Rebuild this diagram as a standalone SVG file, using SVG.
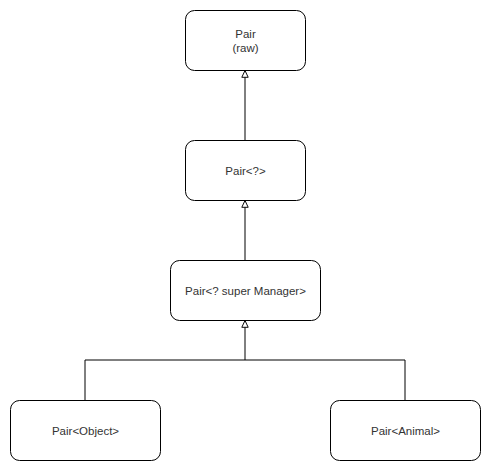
<svg xmlns="http://www.w3.org/2000/svg" width="491" height="471" viewBox="0 0 491 471">
<defs>
<style>
.box{fill:#fff;stroke:#000;stroke-width:1}
.t{font-family:"Liberation Sans",Arial,sans-serif;font-size:11.5px;fill:#333;text-anchor:middle}
.c{fill:none;stroke:#000;stroke-width:1}
</style>
<marker id="tri" viewBox="0 0 10 10" refX="9.5" refY="5" markerWidth="8" markerHeight="8" markerUnits="userSpaceOnUse" orient="auto">
<path d="M1,1 L9.5,5 L1,9 Z" fill="#fff" stroke="#000" stroke-width="1.2"/>
</marker>
</defs>
<rect width="491" height="471" fill="#fff"/>
<g id="connectors">
<path class="c" d="M245,140 L245,70.5" marker-end="url(#tri)"/>
<path class="c" d="M245,260 L245,200.5" marker-end="url(#tri)"/>
<path class="c" d="M85,400 L85,360 L245,360 L245,320.5" marker-end="url(#tri)"/>
<path class="c" d="M405,400 L405,360 L245,360"/>
</g>
<g id="pair-raw">
<rect class="box" x="185.5" y="10.5" width="120" height="60" rx="9"/>
<text class="t" x="245.5" y="38">Pair</text>
<text class="t" x="245.5" y="52">(raw)</text>
</g>
<g id="pair-wild">
<rect class="box" x="185.5" y="140.5" width="120" height="60" rx="9"/>
<text class="t" x="245.5" y="174.5">Pair&lt;?&gt;</text>
</g>
<g id="pair-super">
<rect class="box" x="170.5" y="260.5" width="150" height="60" rx="9"/>
<text class="t" x="245.5" y="294.5">Pair&lt;? super Manager&gt;</text>
</g>
<g id="pair-object">
<rect class="box" x="10.5" y="400.5" width="150" height="60" rx="9"/>
<text class="t" x="85.5" y="434.5">Pair&lt;Object&gt;</text>
</g>
<g id="pair-animal">
<rect class="box" x="330.5" y="400.5" width="150" height="60" rx="9"/>
<text class="t" x="405.5" y="434.5">Pair&lt;Animal&gt;</text>
</g>
</svg>
